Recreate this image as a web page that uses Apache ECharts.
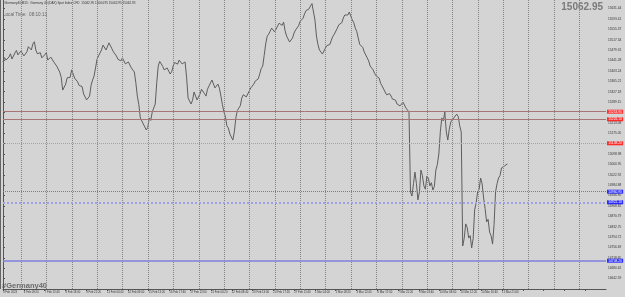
<!DOCTYPE html>
<html>
<head>
<meta charset="utf-8">
<script src="https://cdn.jsdelivr.net/npm/echarts@6/dist/echarts.min.js"></script>
<style>html,body{margin:0;padding:0;background:#d4d4d4;}#c{width:625px;height:297px;}</style>
</head>
<body>
<div id="c"></div>
<script>
// ---- data ----
const symbolName = "#Germany40";
const headerText = "#Germany40,M15:  Germany 40 (DAX) Spot Index CFD  15062.95 15064.95 15062.95 15062.95";
const localTime = "Local Time:  08:10:13";
const lastPrice = 15062.95;

const timeLabels = ["3 Feb 2023","6 Feb 09:20","7 Feb 13:40","8 Feb 18:00","9 Feb 22:20","13 Feb 04:40",
  "14 Feb 09:00","15 Feb 13:20","16 Feb 17:40","17 Feb 22:00","21 Feb 04:20","22 Feb 08:40","23 Feb 13:00",
  "24 Feb 17:20","27 Feb 21:40","1 Mar 04:00","2 Mar 08:20","3 Mar 12:40","6 Mar 17:00","7 Mar 21:20",
  "9 Mar 03:40","10 Mar 08:00","13 Mar 12:20","14 Mar 16:40","15 Mar 21:00"];

// sampled closes (every other tick)
const closes = [
  15436,15443,15454,15447,15469,15462,15476,15458,15473,15487,
  15502,15480,15465,15451,15462,15443,15454,15436,15421,15399,
  15333,15355,15385,15407,15377,15363,15348,15319,15297,15311,
  15370,15414,15458,15480,15494,15487,15502,15473,15458,15443,
  15451,15429,15436,15414,15399,15311,15231,15209,15187,15231,
  15253,15282,15421,15429,15407,15414,15392,15421,15436,15443,
  15429,15436,15304,15282,15326,15297,15319,15341,15311,15348,
  15370,15341,15355,15311,15253,15202,15172,15150,15231,15267,
  15304,15319,15311,15341,15355,15370,15392,15421,15502,15538,
  15560,15546,15568,15575,15582,15531,15509,15524,15553,15568,
  15590,15612,15626,15641,15648,15531,15480,15465,15487,15494,
  15516,15538,15560,15575,15597,15612,15619,15590,15560,15524,
  15494,15473,15451,15421,15407,15385,15377,15348,15326,15311,
  15311,15297,15282,15275,15289,15267,15253,14945,15033,14931,
  15040,14982,15018,14982,14967,15040,15099,15231,15253,15150,
  15216,15231,15245,15202,14762,14843,14791,14755,14894,14960,
  15011,14938,14850,14813,14769,14960,15011,15048,15055,15063
];
// in-between ticks (one between each pair of closes)
const midTicks = [
  15452,15438,15466,15450,15478,15455,15482,15452,15492,15480,
  15510,15466,15470,15444,15470,15436,15458,15440,15418,15380,
  15326,15378,15380,15402,15384,15350,15346,15314,15292,15350,
  15384,15446,15462,15498,15480,15506,15484,15478,15446,15440,
  15452,15424,15430,15418,15360,15280,15226,15210,15196,15222,
  15260,15360,15438,15420,15400,15418,15400,15434,15428,15446,
  15422,15380,15300,15296,15320,15292,15336,15320,15336,15352,
  15366,15340,15340,15280,15236,15194,15168,15180,15258,15276,
  15316,15308,15330,15338,15366,15374,15412,15460,15530,15542,
  15562,15550,15578,15570,15550,15526,15506,15542,15556,15584,
  15596,15624,15630,15650,15590,15500,15478,15468,15496,15500,
  15530,15542,15572,15580,15608,15608,15614,15580,15548,15500,
  15490,15468,15440,15420,15394,15388,15358,15342,15316,15320,
  15300,15296,15284,15276,15282,15262,14960,14990,14990,14960,
  15020,14970,15010,14994,14980,15060,15180,15220,15180,15190,
  15212,15226,15236,15180,14790,14830,14800,14790,14920,14970,
  14990,14900,14860,14800,14840,14990,15020,15044,15060
];

const redLevels = [15253.9, 15226.1];
const redDotted = [15138.2];
const blueDotted = [14960.9];
const blueDotted2 = [14922.1];
const blueSolid = [14708.2];

// ---- chart ----
const W = 606, H = 289;
const pxPerTick = 1.5;
const xMax = W / pxPerTick;
const labelStep = 20.9 / pxPerTick;
const yStep = 38.0327;
const yMin = 384 * yStep;
const yMax = yMin + (H / 10.385) * yStep;

const series = [];
closes.forEach((c, i) => {
  series.push([2 * i, c]);
  if (i < midTicks.length) series.push([2 * i + 1, midTicks[i]]);
});

const sepStart = 18.3, sepGap = 25.5;
const sepLines = [];
for (let p = sepStart; p < W - 10; p += sepGap) sepLines.push({xAxis: p / pxPerTick});

function hLine(v, color, type, width, bg) {
  return {
    yAxis: v,
    lineStyle: {color: color, type: type, width: width},
    label: {show: true, position: 'end', distance: 1, formatter: v.toFixed(2),
      backgroundColor: bg, color: '#fff', fontSize: 3.3, padding: [0.6, 1.2, 0.4, 1.2], fontFamily: 'Liberation Sans'}
  };
}

const hLines = [];
redLevels.forEach(v => hLines.push(hLine(v, '#a87474', 'solid', 1, '#ff2a2a')));
redDotted.forEach(v => hLines.push(hLine(v, '#d89090', 'dotted', 1, '#ff2a2a')));
blueDotted.forEach(v => hLines.push(hLine(v, '#7070d8', 'dotted', 1, '#2a2aff')));
blueDotted2.forEach(v => hLines.push(hLine(v, '#a0a0e8', 'dotted', 2, '#2a2aff')));
blueSolid.forEach(v => hLines.push(hLine(v, '#8080e0', 'solid', 1.5, '#2a2aff')));
const cur = hLine(lastPrice, '#000', 'solid', 0, '#111');
cur.lineStyle.opacity = 0;
hLines.push(cur);

const chart = echarts.init(document.getElementById('c'), null, {renderer: 'canvas'});
chart.setOption({
  animation: false,
  backgroundColor: '#d4d4d4',
  grid: {left: 0, right: 625 - W, top: 0, bottom: 297 - H},
  xAxis: {
    type: 'value', min: 0, max: xMax, interval: labelStep,
    axisLine: {show: true, lineStyle: {color: '#555', width: 1}},
    axisTick: {show: true, length: 2, lineStyle: {color: '#555'}},
    splitLine: {show: false},
    axisLabel: {
      fontSize: 2.8, color: '#333', margin: 2, align: 'left', showMaxLabel: false,
      fontFamily: 'Liberation Sans',
      formatter: v => timeLabels[Math.round(v / labelStep)] || ''
    }
  },
  yAxis: {
    type: 'value', position: 'right', min: yMin, max: yMax, interval: yStep,
    axisLine: {show: true, lineStyle: {color: '#555', width: 1}},
    axisTick: {show: true, length: 2, lineStyle: {color: '#555'}},
    splitLine: {show: false},
    axisLabel: {
      fontSize: 3.2, color: '#333', margin: 2, showMinLabel: false, showMaxLabel: false,
      fontFamily: 'Liberation Sans',
      formatter: v => v.toFixed(2)
    }
  },
  series: [
    {
      type: 'line', data: [], silent: true,
      markLine: {silent: true, symbol: ['none', 'none'], label: {show: false},
        lineStyle: {color: '#858585', type: 'dotted', width: 1}, data: sepLines}
    },
    {
      type: 'line', data: series, showSymbol: false, silent: true,
      lineStyle: {color: '#5e5e5e', width: 1},
      markLine: {silent: true, symbol: ['none', 'none'], data: hLines}
    }
  ],
  graphic: [
    {type: 'text', left: 3, top: 2, style: {text: headerText, fontSize: 3.1, fill: '#333', fontFamily: 'Liberation Sans'}},
    {type: 'text', left: 3, top: 12, style: {text: localTime, fontSize: 4.6, fill: '#666', fontFamily: 'Liberation Sans'}},
    {type: 'text', right: 22, top: 2, style: {text: lastPrice.toFixed(2), fontSize: 10, fontWeight: 'bold', fill: '#7a7a7a', fontFamily: 'Liberation Sans'}},
    {type: 'text', left: 2, top: 282, style: {text: symbolName, fontSize: 7.5, fontWeight: 'bold', fill: '#6a6a6a', fontFamily: 'Liberation Sans'}},
    {type: 'line', shape: {x1: 0.5, y1: 0, x2: 0.5, y2: H}, style: {stroke: '#666', lineWidth: 1}}
  ]
});
</script>
</body>
</html>
